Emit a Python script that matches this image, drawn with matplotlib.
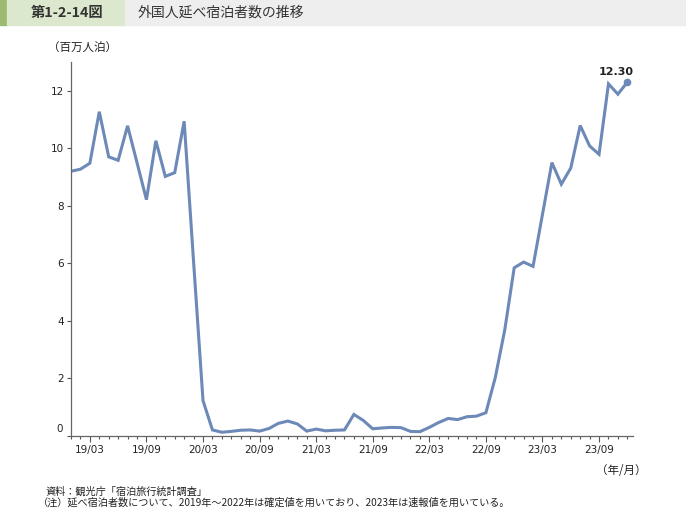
import matplotlib
matplotlib.use('Agg')
import matplotlib.pyplot as plt
from matplotlib.patches import Rectangle
from matplotlib.ticker import FixedLocator, MultipleLocator

plt.rcParams['font.family'] = ['DejaVu Sans', 'Noto Sans CJK JP']
jp = ['Noto Sans CJK JP', 'DejaVu Sans']

# monthly foreign guest nights (millions), 2019/01 - 2023/12
years = [2019, 2020, 2021, 2022, 2023]
nights_2019 = [9.20, 9.27, 9.48, 11.27, 9.70, 9.58, 10.78, 9.50, 8.21, 10.26, 9.02, 9.15]
nights_2020 = [10.94, 6.05, 1.22, 0.20, 0.12, 0.15, 0.19, 0.20, 0.16, 0.25, 0.43, 0.51]
nights_2021 = [0.41, 0.16, 0.23, 0.17, 0.19, 0.20, 0.74, 0.53, 0.24, 0.27, 0.29, 0.28]
nights_2022 = [0.15, 0.14, 0.29, 0.46, 0.60, 0.56, 0.66, 0.68, 0.80, 2.03, 3.68, 5.84]
nights_2023 = [6.04, 5.89, 7.70, 9.50, 8.75, 9.31, 10.79, 10.08, 9.79, 12.24, 11.88, 12.30]

values = nights_2019 + nights_2020 + nights_2021 + nights_2022 + nights_2023
months = [f"{y % 100:02d}/{m:02d}" for y in years for m in range(1, 13)]
x = list(range(len(values)))

fig = plt.figure(figsize=(6.86, 5.08), dpi=100)

# header band
fig.patches.append(Rectangle((0, 1 - 25/508), 7/686, 25/508, transform=fig.transFigure,
                             color='#9cbb6e', zorder=0))
fig.patches.append(Rectangle((7/686, 1 - 25/508), 118/686, 25/508, transform=fig.transFigure,
                             color='#dce8cd', zorder=0))
fig.patches.append(Rectangle((125/686, 1 - 25/508), 561/686, 25/508, transform=fig.transFigure,
                             color='#eeeeee', zorder=0))
fig.text(31/686, 1 - 13/508, '第1-2-14図', family=jp, fontsize=10.3, fontweight='bold',
         color='#333333', va='center', ha='left')
fig.text(138/686, 1 - 13/508, '外国人延べ宿泊者数の推移', family=jp, fontsize=10,
         color='#333333', va='center', ha='left')

ax = fig.add_axes([71/686, 1 - 435.7/508, (633 - 71)/686, (435.7 - 62)/508])
line_color = '#6d89b8'
ax.plot(x, values, color=line_color, linewidth=2.2, solid_joinstyle='miter')
ax.plot(x[-1], values[-1], 'o', color=line_color, markersize=4.5)
ax.annotate(f"{values[-1]:.2f}", xy=(x[-1], values[-1]), xytext=(-8, 4),
            textcoords='offset points', ha='center', va='bottom',
            fontsize=8, fontweight='bold', color='#222222')

ax.set_xlim(0, 59.6)
ax.set_ylim(0, 13)

for s in ['top', 'right']:
    ax.spines[s].set_visible(False)
for s in ['left', 'bottom']:
    ax.spines[s].set_color('#666666')
    ax.spines[s].set_linewidth(0.9)

major = [i for i, m in enumerate(months) if m.endswith('/03') or m.endswith('/09')]
ax.xaxis.set_major_locator(FixedLocator(major))
ax.set_xticklabels([months[i] for i in major])
ax.xaxis.set_minor_locator(MultipleLocator(1))
ax.tick_params(axis='x', which='major', length=4, width=0.8, color='#555555',
               labelsize=7.5, labelcolor='#222222', pad=3)
ax.tick_params(axis='x', which='minor', length=2, width=0.8, color='#555555')

yticks = [0, 2, 4, 6, 8, 10, 12]
ax.set_yticks(yticks)
ax.set_yticklabels([''] + [str(v) for v in yticks[1:]])
ax.tick_params(axis='y', length=3, width=0.8, color='#555555',
               labelsize=7.5, labelcolor='#222222', pad=2)
ax.annotate('0', xy=(0, 0), xycoords=('axes fraction', 'data'), xytext=(-5.5, 4.5),
            textcoords='offset points', ha='right', va='center',
            fontsize=7.5, color='#222222', annotation_clip=False)

fig.text(82/686, 1 - 48/508, '（百万人泊）', family=jp, fontsize=8.3, color='#222222',
         ha='center', va='center')
fig.text(646/686, 1 - 471/508, '（年/月）', family=jp, fontsize=8.3, color='#222222',
         ha='right', va='center')
fig.text(45/686, 1 - 492/508, '資料：観光庁「宿泊旅行統計調査」', family=jp, fontsize=7.3,
         color='#222222', ha='left', va='center')
fig.text(38/686, 1 - 503/508,
         '（注）延べ宿泊者数について、2019年～2022年は確定値を用いており、2023年は速報値を用いている。',
         family=jp, fontsize=7.3, color='#222222', ha='left', va='center')

fig.savefig('out.png', dpi=100)
